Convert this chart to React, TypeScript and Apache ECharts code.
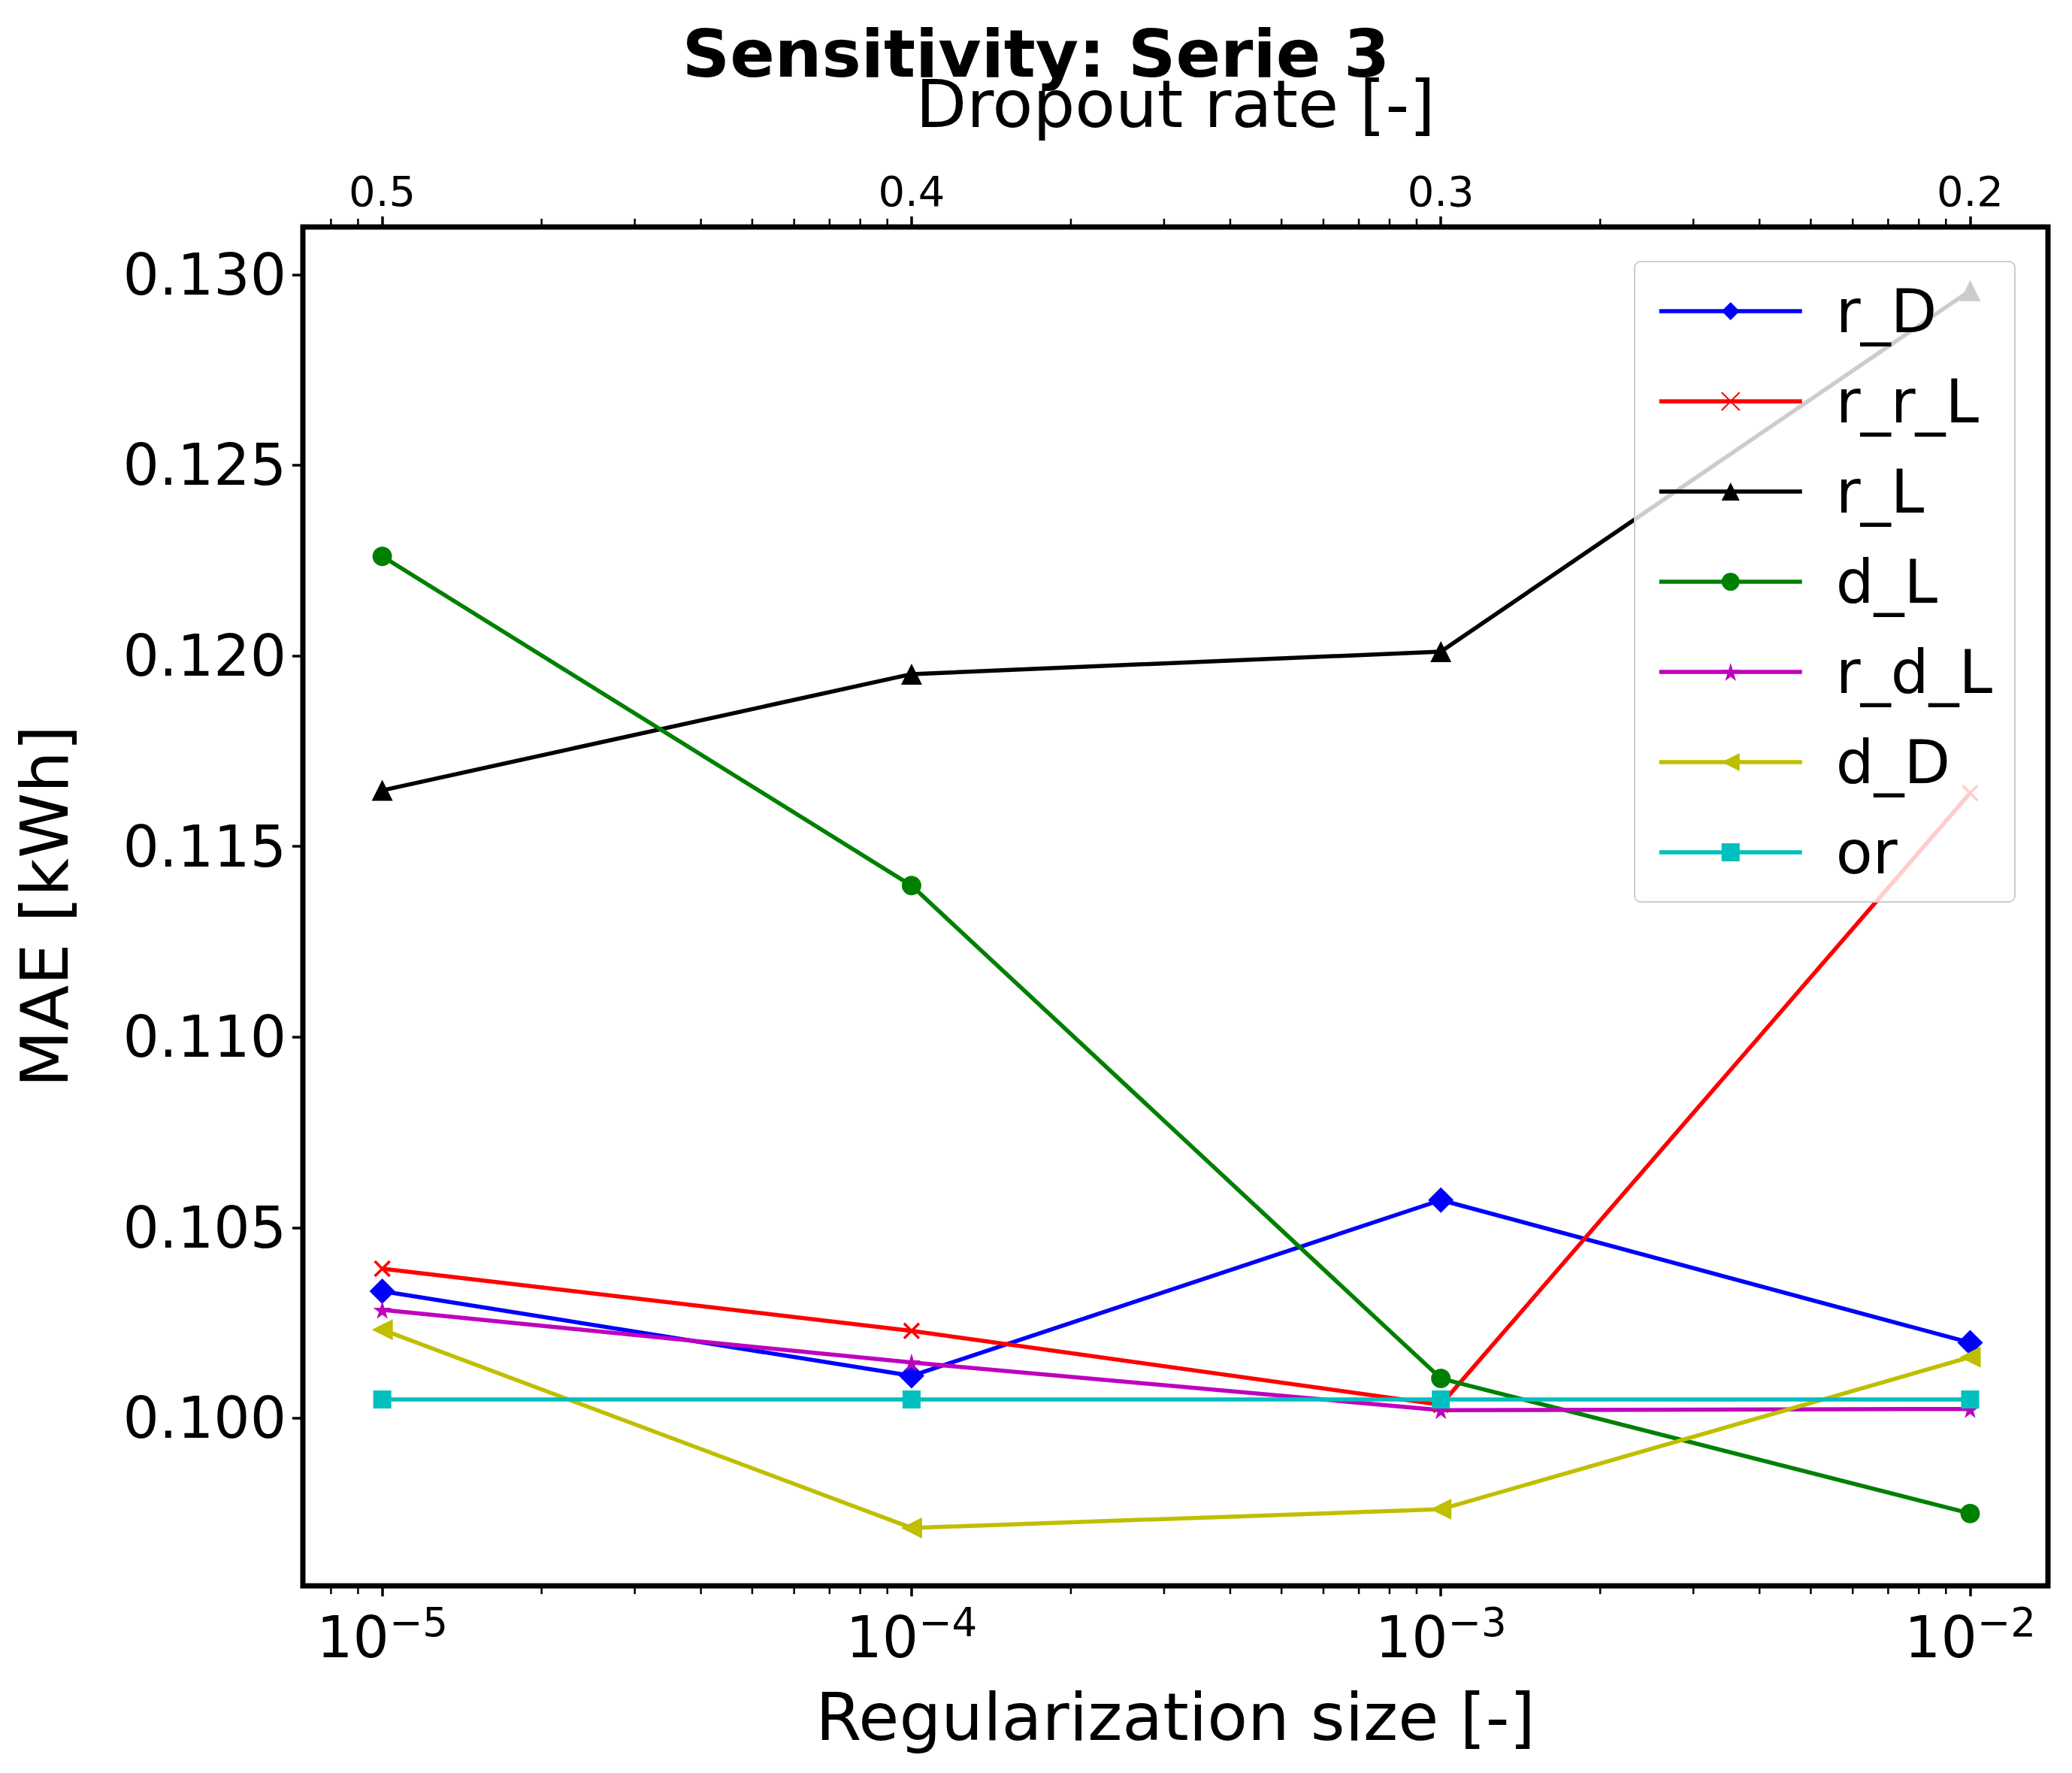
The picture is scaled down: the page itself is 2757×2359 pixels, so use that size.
import * as echarts from "echarts";
import { useEffect, useRef } from "react";

const regExponents = [-5, -4, -3, -2];
const dropoutLabels = ["0.5", "0.4", "0.3", "0.2"];
const yTicks = [0.1, 0.105, 0.11, 0.115, 0.12, 0.125, 0.13];

const rD = [0.10333, 0.10111, 0.10572, 0.10198];
const rrL = [0.10392, 0.10229, 0.10035, 0.1164];
const rL = [0.11647, 0.11952, 0.12011, 0.12958];
const dL = [0.12261, 0.11397, 0.10104, 0.0975];
const rdL = [0.10284, 0.10146, 0.10021, 0.10024];
const dD = [0.10232, 0.09712, 0.09761, 0.1016];
const orV = [0.10049, 0.10049, 0.10049, 0.10049];

const X_MIN = -5.15;
const X_MAX = -1.853;
const Y_MIN = 0.0956;
const Y_MAX = 0.13125;

const minorTicks: number[] = [];
for (let k = -6; k <= -2; k++) {
  for (let m = 2; m <= 9; m++) {
    const v = k + Math.log10(m);
    if (v > X_MIN && v < X_MAX) minorTicks.push(v);
  }
}

const STAR =
  "path://M50,0 L61,35 L98,35 L68,57 L79,91 L50,70 L21,91 L32,57 L2,35 L39,35 Z";
const CROSS = "path://M0,0 L10,10 M10,0 L0,10";

const App = () => {
  const ref = useRef<HTMLDivElement>(null);

  useEffect(() => {
    document.body.style.margin = "0";
    if (!ref.current) return;
    const chart = echarts.init(ref.current, null, { renderer: "svg" });
    const font = "DejaVu Sans";
    const mk = (
      name: string,
      vals: number[],
      color: string,
      symbol: string,
      size: number,
      extra: any = {}
    ) => ({
      name,
      type: "line",
      data: regExponents.map((x, i) => [x, vals[i]]),
      symbol,
      symbolSize: size,
      lineStyle: { color, width: 5.5 },
      itemStyle: { color },
      ...extra,
    });
    chart.setOption({
      animation: false,
      textStyle: { fontFamily: font },
      title: {
        text: "Sensitivity: Serie 3",
        left: "center",
        top: 22,
        textStyle: { fontSize: 88, fontWeight: "bold", color: "#000", fontFamily: font },
      },
      grid: {
        left: 403,
        width: 2322,
        top: 302,
        height: 1808,
        show: true,
        borderColor: "#000",
        borderWidth: 7,
      },
      legend: {
        orient: "vertical",
        right: 2757 - 2681,
        top: 348,
        itemWidth: 190,
        itemHeight: 30,
        itemGap: 40,
        padding: [26, 30, 26, 30],
        backgroundColor: "rgba(255,255,255,0.8)",
        borderColor: "#ccc",
        borderWidth: 2,
        borderRadius: 8,
        lineStyle: { width: 5.5 },
        textStyle: { fontSize: 80, color: "#000", fontFamily: font, padding: [0, 0, 0, 40] },
      },
      xAxis: [
        {
          type: "value",
          min: X_MIN,
          max: X_MAX,
          position: "bottom",
          name: "Regularization size [-]",
          nameLocation: "middle",
          nameGap: 130,
          nameTextStyle: { fontSize: 88, color: "#000" },
          splitLine: { show: false },
          axisLine: { show: false },
          axisTick: { length: 14, lineStyle: { color: "#000", width: 3.5 }, customValues: regExponents },
          axisLabel: {
            customValues: regExponents,
            margin: 22,
            formatter: (v: number) => `{b|10}{s|${v < 0 ? "−" : ""}${Math.abs(Math.round(v))}}`,
            rich: {
              b: { fontSize: 76, color: "#000", fontFamily: font },
              s: { fontSize: 53, color: "#000", fontFamily: font, padding: [0, 0, 40, 0] },
            },
          },
        },
        {
          type: "value",
          min: X_MIN,
          max: X_MAX,
          position: "top",
          name: "Dropout rate [-]",
          nameLocation: "middle",
          nameGap: 120,
          nameTextStyle: { fontSize: 88, color: "#000" },
          splitLine: { show: false },
          axisLine: { show: false },
          axisTick: { length: 14, lineStyle: { color: "#000", width: 3.5 }, customValues: regExponents },
          axisLabel: {
            customValues: regExponents,
            margin: 20,
            fontSize: 56,
            color: "#000",
            formatter: (v: number) => dropoutLabels[regExponents.indexOf(Math.round(v))] ?? "",
          },
        },
      ],
      yAxis: {
        type: "value",
        min: Y_MIN,
        max: Y_MAX,
        name: "MAE [kWh]",
        nameLocation: "middle",
        nameGap: 300,
        nameTextStyle: { fontSize: 88, color: "#000" },
        splitLine: { show: false },
        axisLine: { show: false },
        axisTick: { length: 14, lineStyle: { color: "#000", width: 3.5 }, customValues: yTicks },
        axisLabel: {
          customValues: yTicks,
          fontSize: 76,
          color: "#000",
          margin: 22,
          formatter: (v: number) => v.toFixed(3),
        },
      },
      series: [
        {
          type: "custom",
          silent: true,
          clip: false,
          data: minorTicks.map((v) => [v]),
          renderItem: (_p: any, api: any) => {
            const x = api.value(0);
            const b = api.coord([x, Y_MIN]);
            const t = api.coord([x, Y_MAX]);
            const st = { stroke: "#000", lineWidth: 2.5 };
            return {
              type: "group",
              children: [
                { type: "line", shape: { x1: b[0], y1: b[1] + 3, x2: b[0], y2: b[1] + 11 }, style: st },
                { type: "line", shape: { x1: t[0], y1: t[1] - 3, x2: t[0], y2: t[1] - 11 }, style: st },
              ],
            };
          },
        },
        mk("r_D", rD, "#0000ff", "diamond", 34),
        mk("r_r_L", rrL, "#ff0000", CROSS, 20, {
          itemStyle: { color: "#ff0000", borderColor: "#ff0000", borderWidth: 3.5 },
        }),
        mk("r_L", rL, "#000000", "triangle", 28),
        mk("d_L", dL, "#008000", "circle", 26),
        mk("r_d_L", rdL, "#bf00bf", STAR, 24),
        mk("d_D", dD, "#bfbf00", "triangle", 28, { symbolRotate: 90 }),
        mk("or", orV, "#00bfbf", "rect", 24),
      ],
    });
    return () => chart.dispose();
  }, []);

  return <div ref={ref} style={{ width: 2757, height: 2359 }} />;
};

export default App;
